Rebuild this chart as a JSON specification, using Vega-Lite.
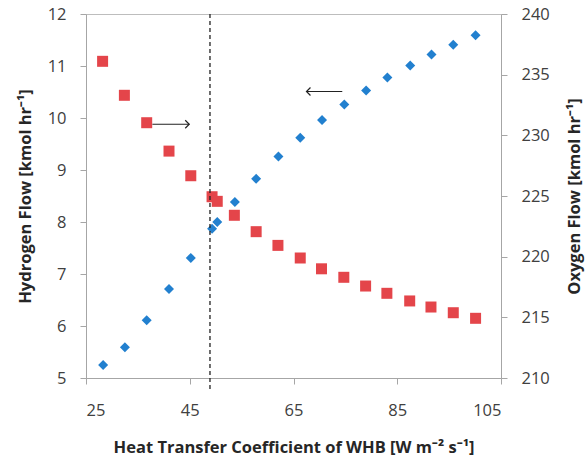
{
  "$schema": "https://vega.github.io/schema/vega-lite/v6.json",
  "width": 415,
  "height": 364,
  "autosize": {"type": "none"},
  "padding": {"left": 86, "top": 14, "right": 86, "bottom": 83},
  "background": "white",
  "config": {
    "view": {"stroke": "#bdbdbd", "strokeWidth": 1},
    "font": "Open Sans",
    "axis": {
      "grid": false,
      "domainColor": "#a6a6a6",
      "tickColor": "#a6a6a6",
      "tickSize": 6,
      "labelFont": "Open Sans",
      "labelFontSize": 16.5,
      "labelColor": "#404040",
      "titleFont": "Open Sans",
      "titleFontSize": 16.5,
      "titleFontWeight": "bold",
      "titleColor": "#262626"
    }
  },
  "datasets": {
    "h2": [
      {"htc": 28.3, "h": 5.25}, {"htc": 32.5, "h": 5.59}, {"htc": 36.7, "h": 6.11},
      {"htc": 41.0, "h": 6.71}, {"htc": 45.2, "h": 7.31}, {"htc": 49.3, "h": 7.87},
      {"htc": 50.3, "h": 8.0}, {"htc": 53.7, "h": 8.385}, {"htc": 57.8, "h": 8.83},
      {"htc": 62.1, "h": 9.26}, {"htc": 66.3, "h": 9.62}, {"htc": 70.5, "h": 9.96},
      {"htc": 74.8, "h": 10.26}, {"htc": 79.0, "h": 10.53}, {"htc": 83.1, "h": 10.78},
      {"htc": 87.5, "h": 11.01}, {"htc": 91.6, "h": 11.22}, {"htc": 95.8, "h": 11.41},
      {"htc": 100.1, "h": 11.59}
    ],
    "o2": [
      {"htc": 28.2, "o": 236.1}, {"htc": 32.4, "o": 233.3}, {"htc": 36.7, "o": 231.04},
      {"htc": 41.0, "o": 228.7}, {"htc": 45.2, "o": 226.67}, {"htc": 49.3, "o": 224.94},
      {"htc": 50.3, "o": 224.56}, {"htc": 53.6, "o": 223.41}, {"htc": 57.8, "o": 222.06},
      {"htc": 62.0, "o": 220.93}, {"htc": 66.3, "o": 219.89}, {"htc": 70.4, "o": 219.0},
      {"htc": 74.7, "o": 218.3}, {"htc": 78.9, "o": 217.58}, {"htc": 83.0, "o": 216.98},
      {"htc": 87.4, "o": 216.35}, {"htc": 91.5, "o": 215.85}, {"htc": 95.8, "o": 215.38},
      {"htc": 100.1, "o": 214.92}
    ],
    "arrows": [
      {"x1": 37.8, "x2": 44.9, "y": 9.88, "head": 44.9, "dir": "right"},
      {"x1": 74.4, "x2": 67.5, "y": 10.51, "head": 67.5, "dir": "left"}
    ],
    "vline": [{"x": 48.9, "ytop": 12, "ybot": 4.75}]
  },
  "layer": [
    {
      "data": {"name": "h2"},
      "mark": {"type": "point", "shape": "diamond", "filled": true, "size": 100, "color": "#2280cf", "opacity": 1},
      "encoding": {
        "x": {"field": "htc", "type": "quantitative",
              "scale": {"domain": [25, 105], "nice": false, "zero": false},
              "axis": {"values": [25, 45, 65, 85, 105], "title": "Heat Transfer Coefficient of WHB [W m⁻² s⁻¹]", "labelPadding": 18, "titlePadding": 21}},
        "y": {"field": "h", "type": "quantitative",
              "scale": {"domain": [5, 12], "nice": false, "zero": false},
              "axis": {"orient": "left", "values": [5, 6, 7, 8, 9, 10, 11, 12], "title": "Hydrogen Flow [kmol hr⁻¹]", "labelPadding": 14, "titlePadding": 14}}
      }
    },
    {
      "data": {"name": "o2"},
      "mark": {"type": "square", "size": 121, "color": "#e4454a", "opacity": 1},
      "encoding": {
        "x": {"field": "htc", "type": "quantitative"},
        "y": {"field": "o", "type": "quantitative",
              "scale": {"domain": [210, 240], "nice": false, "zero": false},
              "axis": {"orient": "right", "values": [210, 215, 220, 225, 230, 235, 240], "title": "Oxygen Flow [kmol hr⁻¹]", "titleAngle": 270, "labelPadding": 14, "titlePadding": 33}}
      }
    },
    {
      "data": {"name": "vline"},
      "mark": {"type": "rule", "color": "#222222", "strokeDash": [4, 3], "strokeWidth": 1.3, "clip": false},
      "encoding": {
        "x": {"field": "x", "type": "quantitative"},
        "y": {"field": "ytop", "type": "quantitative", "scale": {"domain": [5, 12], "nice": false, "zero": false}, "axis": null},
        "y2": {"field": "ybot"}
      }
    },
    {
      "data": {"name": "arrows"},
      "layer": [
        {
          "mark": {"type": "rule", "color": "#222222", "strokeWidth": 1.2},
          "encoding": {
            "x": {"field": "x1", "type": "quantitative"},
            "x2": {"field": "x2"},
            "y": {"field": "y", "type": "quantitative", "scale": {"domain": [5, 12], "nice": false, "zero": false}, "axis": null}
          }
        },
        {
          "transform": [{"filter": "datum.dir === 'right'"}],
          "mark": {"type": "point", "shape": "M -1 -1 L 0 0 L -1 1", "filled": false, "size": 64, "stroke": "#222222", "strokeWidth": 1.2, "opacity": 1},
          "encoding": {
            "x": {"field": "head", "type": "quantitative"},
            "y": {"field": "y", "type": "quantitative", "scale": {"domain": [5, 12], "nice": false, "zero": false}, "axis": null}
          }
        },
        {
          "transform": [{"filter": "datum.dir === 'left'"}],
          "mark": {"type": "point", "shape": "M 1 -1 L 0 0 L 1 1", "filled": false, "size": 64, "stroke": "#222222", "strokeWidth": 1.2, "opacity": 1},
          "encoding": {
            "x": {"field": "head", "type": "quantitative"},
            "y": {"field": "y", "type": "quantitative", "scale": {"domain": [5, 12], "nice": false, "zero": false}, "axis": null}
          }
        }
      ],
      "resolve": {"scale": {"y": "shared"}}
    }
  ],
  "resolve": {"scale": {"y": "independent"}}
}
